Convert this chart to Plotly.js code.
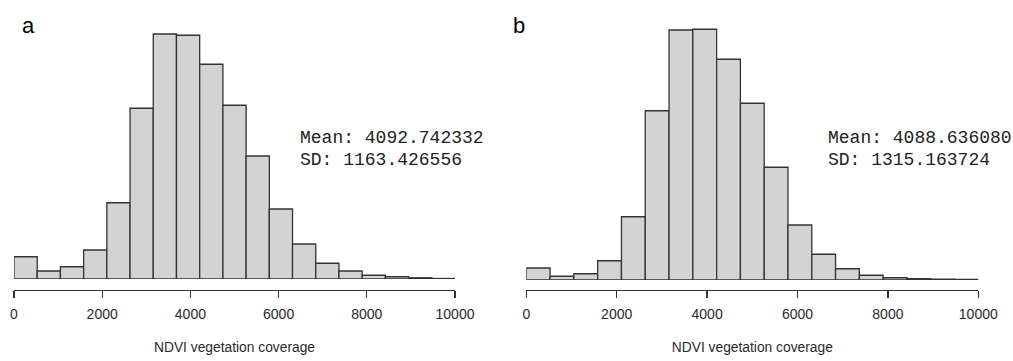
<!DOCTYPE html>
<html>
<head>
<meta charset="utf-8">
<script src="https://cdn.plot.ly/plotly-3.0.1.min.js"></script>
<style>html,body{margin:0;padding:0;background:#fff;}#chart{width:1013px;height:361px;}</style>
</head>
<body>
<div id="chart"></div>
<script>
// Histogram bin counts (19 equal bins spanning 0–10000)
const nBins = 19;
const binWidth = 10000 / nBins;
const countsA = [89, 32, 49, 116, 305, 683, 980, 975, 859, 695, 492, 280, 140, 63, 32, 15, 9, 5, 2];
const countsB = [48, 15, 25, 77, 253, 677, 1000, 1003, 883, 707, 451, 220, 103, 45, 19, 9, 5, 3, 2];
const tickVals = [0, 2000, 4000, 6000, 8000, 10000];
const tickText = ['0', '2000', '4000', '6000', '8000', '10000'];
const axisTitle = 'NDVI vegetation coverage';
const panelLabels = ['a', 'b'];
const statsA = ['Mean: 4092.742332', 'SD: 1163.426556'];
const statsB = ['Mean: 4088.636080', 'SD: 1315.163724'];

const W = 1013, H = 361;
const px = v => v / W;
const py = v => 1 - v / H;

const centers = countsA.map((_, i) => (i + 0.5) * binWidth);

function barTrace(counts, xa, ya) {
  return {
    type: 'bar', x: centers, y: counts, width: binWidth,
    xaxis: xa, yaxis: ya,
    marker: {color: '#d3d3d3', line: {color: '#333', width: 1.3}},
    hoverinfo: 'skip'
  };
}

function xAxis(domain, basePx) {
  return {
    domain: domain, range: [0, 10000], anchor: 'free', position: py(basePx),
    showline: true, linecolor: '#333', linewidth: 1.3,
    ticks: 'outside', ticklen: 7, tickwidth: 1.3, tickcolor: '#333',
    tickvals: tickVals, ticktext: tickText,
    showgrid: false, zeroline: false, fixedrange: true,
    ticklabelstandoff: 4,
    tickfont: {family: 'Liberation Sans, Arial, sans-serif', size: 14, color: '#2a2a2a'},
    title: {text: axisTitle, font: {family: 'Liberation Sans, Arial, sans-serif', size: 13.8, color: '#2a2a2a'}, standoff: 21}
  };
}

const mono = {family: 'Liberation Mono, DejaVu Sans Mono, monospace', size: 18, color: '#222'};
function statAnn(text, x, y) {
  return {text: text, xref: 'paper', yref: 'paper', x: px(x), y: py(y),
    xanchor: 'left', yanchor: 'middle', showarrow: false, font: mono};
}
const lblFont = {family: 'Liberation Sans, Arial, sans-serif', size: 22, color: '#000'};
function labelAnn(text, x, y) {
  return {text: text, xref: 'paper', yref: 'paper', x: px(x), y: py(y),
    xanchor: 'center', yanchor: 'middle', showarrow: false, font: lblFont};
}

const layout = {
  width: W, height: H,
  margin: {l: 0, r: 0, t: 0, b: 0, pad: 0},
  paper_bgcolor: '#fff', plot_bgcolor: '#fff',
  showlegend: false, bargap: 0,
  xaxis: xAxis([px(14), px(455)], 290),
  yaxis: {domain: [py(279), 1], range: [0, 1116], visible: false, anchor: 'x', fixedrange: true},
  xaxis2: xAxis([px(526.3), px(978.3)], 290),
  yaxis2: {domain: [py(280), 1], range: [0, 1120], visible: false, anchor: 'x2', fixedrange: true},
  annotations: [
    labelAnn(panelLabels[0], 28, 25),
    labelAnn(panelLabels[1], 519, 25),
    statAnn(statsA[0], 298, 138.3),
    statAnn(statsA[1], 298, 160),
    statAnn(statsB[0], 825.5, 138.3),
    statAnn(statsB[1], 825.5, 160)
  ]
};

Plotly.newPlot('chart', [barTrace(countsA, 'x', 'y'), barTrace(countsB, 'x2', 'y2')], layout,
  {displayModeBar: false, staticPlot: true});
</script>
</body>
</html>
